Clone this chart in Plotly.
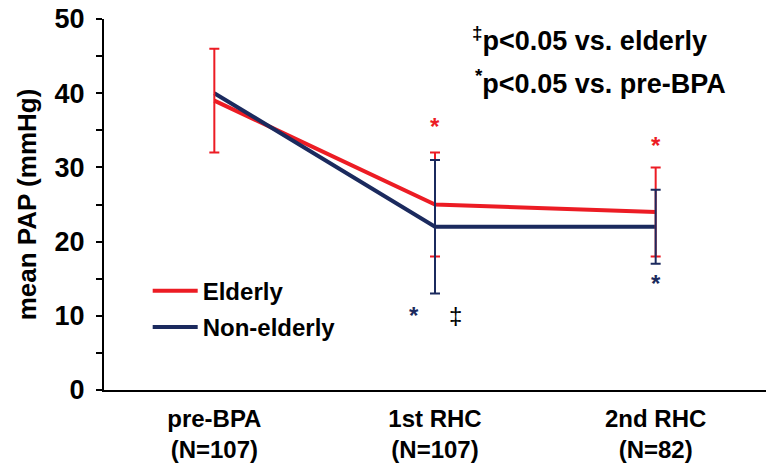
import plotly.graph_objects as go

categories = ["pre-BPA<br>(N=107)", "1st RHC<br>(N=107)", "2nd RHC<br>(N=82)"]
x_pos = [0, 1, 2]

elderly_mean = [39, 25, 24]
elderly_err_plus = [7, 7, 6]
elderly_err_minus = [7, 7, 6]

nonelderly_mean = [40, 22, 22]
nonelderly_err_x = [1, 2]
nonelderly_err_mean = [22, 22]
nonelderly_err_plus = [9, 5]
nonelderly_err_minus = [9, 5]

y_ticks = [0, 10, 20, 30, 40, 50]

RED = "#ec1c24"
NAVY = "#1b2a5e"
FONT = "Liberation Sans"

fig = go.Figure()

fig.add_trace(go.Scatter(
    x=x_pos, y=elderly_mean, mode="lines", name="Elderly",
    line=dict(color=RED, width=4), legendgroup="a",
))
fig.add_trace(go.Scatter(
    x=x_pos, y=nonelderly_mean, mode="lines", name="Non-elderly",
    line=dict(color=NAVY, width=4), legendgroup="b",
))
fig.add_trace(go.Scatter(
    x=x_pos, y=elderly_mean, mode="markers", showlegend=False,
    marker=dict(size=1, color=RED, opacity=0),
    error_y=dict(type="data", symmetric=False, array=elderly_err_plus,
                 arrayminus=elderly_err_minus, color=RED, thickness=2, width=5),
))
fig.add_trace(go.Scatter(
    x=nonelderly_err_x, y=nonelderly_err_mean, mode="markers", showlegend=False,
    marker=dict(size=1, color=NAVY, opacity=0),
    error_y=dict(type="data", symmetric=False, array=nonelderly_err_plus,
                 arrayminus=nonelderly_err_minus, color=NAVY, thickness=2, width=5),
))

annotations = []
# significance markers
for (x, y, c) in [(1, 35.5, RED), (2, 33.0, RED), (2, 14.3, NAVY), (0.905, 10.0, NAVY)]:
    annotations.append(dict(x=x, y=y, xref="x", yref="y", text="*", showarrow=False,
                            font=dict(family=FONT, size=24, color=c, weight="bold"),
                            xanchor="center", yanchor="middle"))
annotations.append(dict(x=1.092, y=10.0, xref="x", yref="y", text="‡", showarrow=False,
                        font=dict(family=FONT, size=24, color="black"),
                        xanchor="center", yanchor="middle"))
annotations.append(dict(x=0.553, y=0.945, xref="paper", yref="paper",
                        text="<sup>‡</sup>p&lt;0.05 vs. elderly", showarrow=False,
                        xanchor="left", yanchor="middle",
                        font=dict(family=FONT, size=27, color="black", weight="bold")))
annotations.append(dict(x=0.557, y=0.83, xref="paper", yref="paper",
                        text="<sup>*</sup>p&lt;0.05 vs. pre-BPA", showarrow=False,
                        xanchor="left", yanchor="middle",
                        font=dict(family=FONT, size=27, color="black", weight="bold")))

fig.update_layout(
    width=766, height=469,
    margin=dict(l=104, r=0, t=19, b=79),
    plot_bgcolor="white", paper_bgcolor="white",
    font=dict(family=FONT, color="black"),
    showlegend=True,
    legend=dict(x=0.066, y=0.327, xanchor="left", yanchor="top", itemwidth=45,
                font=dict(family=FONT, size=24, color="black", weight="bold"),
                bgcolor="rgba(0,0,0,0)", tracegroupgap=2),
    annotations=annotations,
    xaxis=dict(range=[-0.5, 2.5], tickvals=x_pos, ticktext=categories,
               showline=True, linecolor="black", linewidth=2, ticks="",
               ticklabelstandoff=6,
               showgrid=False, zeroline=False, automargin=False,
               tickfont=dict(family=FONT, size=24, color="black", weight="bold")),
    yaxis=dict(range=[0, 50], tickvals=y_ticks, showline=True, linecolor="black",
               linewidth=2, ticks="outside", ticklen=6, tickwidth=2, tickcolor="black",
               ticklabelstandoff=6,
               minor=dict(dtick=5, ticks="outside", ticklen=6, tickwidth=2, tickcolor="black"),
               showgrid=False, zeroline=False, automargin=False,
               tickfont=dict(family=FONT, size=27, color="black", weight="bold"),
               title=dict(text="mean PAP (mmHg)", standoff=10,
                          font=dict(family=FONT, size=26, color="black", weight="bold"))),
)

fig.write_html("out.html", config={"displayModeBar": False},
               post_script="document.body.style.margin='0';")
